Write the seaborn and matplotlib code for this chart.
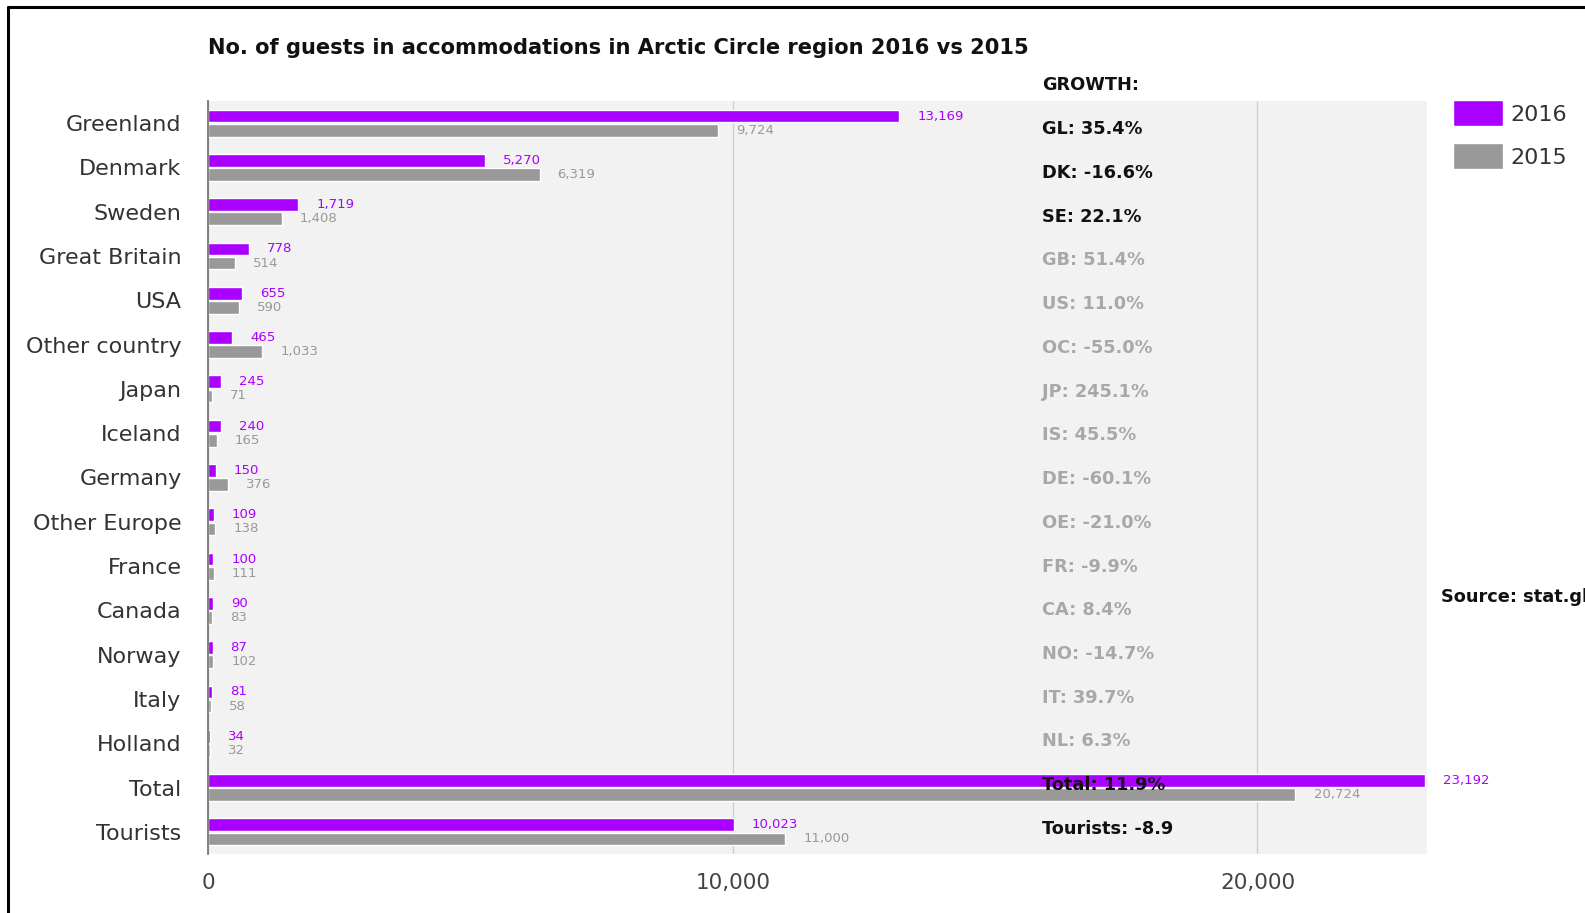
import pandas as pd
import numpy as np
import matplotlib
matplotlib.use('Agg')
import matplotlib.pyplot as plt
import seaborn as sns
from matplotlib.lines import Line2D
from matplotlib.ticker import FuncFormatter

# Data
categories = ['Greenland', 'Denmark', 'Sweden', 'Great Britain', 'USA', 'Other country',
              'Japan', 'Iceland', 'Germany', 'Other Europe', 'France', 'Canada',
              'Norway', 'Italy', 'Holland', 'Total', 'Tourists']
guests_2016 = [13169, 5270, 1719, 778, 655, 465, 245, 240, 150, 109, 100, 90, 87, 81, 34, 23192, 10023]
guests_2015 = [9724, 6319, 1408, 514, 590, 1033, 71, 165, 376, 138, 111, 83, 102, 58, 32, 20724, 11000]
growth_labels = ['GL: 35.4%', 'DK: -16.6%', 'SE: 22.1%', 'GB: 51.4%', 'US: 11.0%', 'OC: -55.0%',
                 'JP: 245.1%', 'IS: 45.5%', 'DE: -60.1%', 'OE: -21.0%', 'FR: -9.9%', 'CA: 8.4%',
                 'NO: -14.7%', 'IT: 39.7%', 'NL: 6.3%', 'Total: 11.9%', 'Tourists: -8.9']
growth_highlight = ['GL', 'DK', 'SE', 'Total', 'Tourists']
years = ['2016', '2015']

purple = '#aa00ff'
grey = '#999999'

# long format for seaborn
df = pd.DataFrame({
    'Country': categories * 2,
    'Guests': guests_2016 + guests_2015,
    'Year': [years[0]] * len(categories) + [years[1]] * len(categories),
})

sns.set_theme(style='white')
plt.rcParams['font.family'] = ['DejaVu Sans']

fig = plt.figure(figsize=(15.85, 9.13), dpi=100)
ax = fig.add_axes([0.1312, 0.0646, 0.7691, 0.8248])
ax.set_facecolor('#f2f2f2')

sns.barplot(data=df, y='Country', x='Guests', hue='Year', orient='h',
            palette={'2016': purple, '2015': grey}, width=0.64, gap=0.1,
            saturation=1, ax=ax, legend=True)

ax.set_xlim(0, 23230)
ax.set_ylim(len(categories) - 0.5, -0.5)
ax.set_xticks([0, 10000, 20000])
ax.xaxis.set_major_formatter(FuncFormatter(lambda v, p: f'{v:,.0f}'))
ax.tick_params(axis='x', length=0, pad=14, labelsize=15.5, labelcolor='#444444')
ax.tick_params(axis='y', length=0, pad=19, labelsize=16, labelcolor='#333333')
ax.set_xlabel('')
ax.set_ylabel('')

ax.grid(axis='x', color='#cfcfcf', linewidth=1)
ax.grid(axis='y', visible=False)
ax.set_axisbelow(True)
for side in ['top', 'right', 'bottom']:
    ax.spines[side].set_visible(False)
ax.spines['left'].set_color('#777777')
ax.spines['left'].set_linewidth(1.3)

# value labels
for cont, col in zip(ax.containers, [purple, grey]):
    ax.bar_label(cont, labels=[f'{w:,.0f}' for w in cont.datavalues],
                 padding=13, color=col, fontsize=9.5)

# growth column
ax.text(15900, -0.86, 'GROWTH:', fontsize=12.8, fontweight='bold',
        color='#111111', va='center', ha='left', clip_on=False)
for i, lab in enumerate(growth_labels):
    key = lab.split(':')[0]
    col = '#111111' if key in growth_highlight else '#a8a8a8'
    ax.text(15900, i + 0.14 - 0.013 * i, lab, fontsize=12.8, fontweight='bold',
            color=col, va='center', ha='left')

# legend
handles, labels = ax.get_legend_handles_labels()
ax.legend(handles, labels, loc='upper left', bbox_to_anchor=(1453 / 1585, 1 - 100 / 913),
          bbox_transform=fig.transFigure, frameon=False, fontsize=16, borderpad=0,
          borderaxespad=0, handlelength=2.25, handleheight=1.45, handletextpad=0.35,
          labelspacing=0.75, labelcolor='#333333')

fig.text(208 / 1585, 1 - 47.5 / 913, 'No. of guests in accommodations in Arctic Circle region 2016 vs 2015',
         fontsize=15.1, fontweight='bold', color='#111111', ha='left', va='center')
fig.text(1441 / 1585, 1 - 597 / 913, 'Source: stat.gl', fontsize=12.8, fontweight='bold',
         color='#111111', ha='left', va='center')

# screenshot frame on left and top
fig.add_artist(Line2D([8 / 1585, 8 / 1585], [0, 1 - 7 / 913], color='black', linewidth=2.2,
                      transform=fig.transFigure))
fig.add_artist(Line2D([8 / 1585, 1], [1 - 7 / 913, 1 - 7 / 913], color='black', linewidth=2.2,
                      transform=fig.transFigure))

fig.savefig('out.png', dpi=100)
